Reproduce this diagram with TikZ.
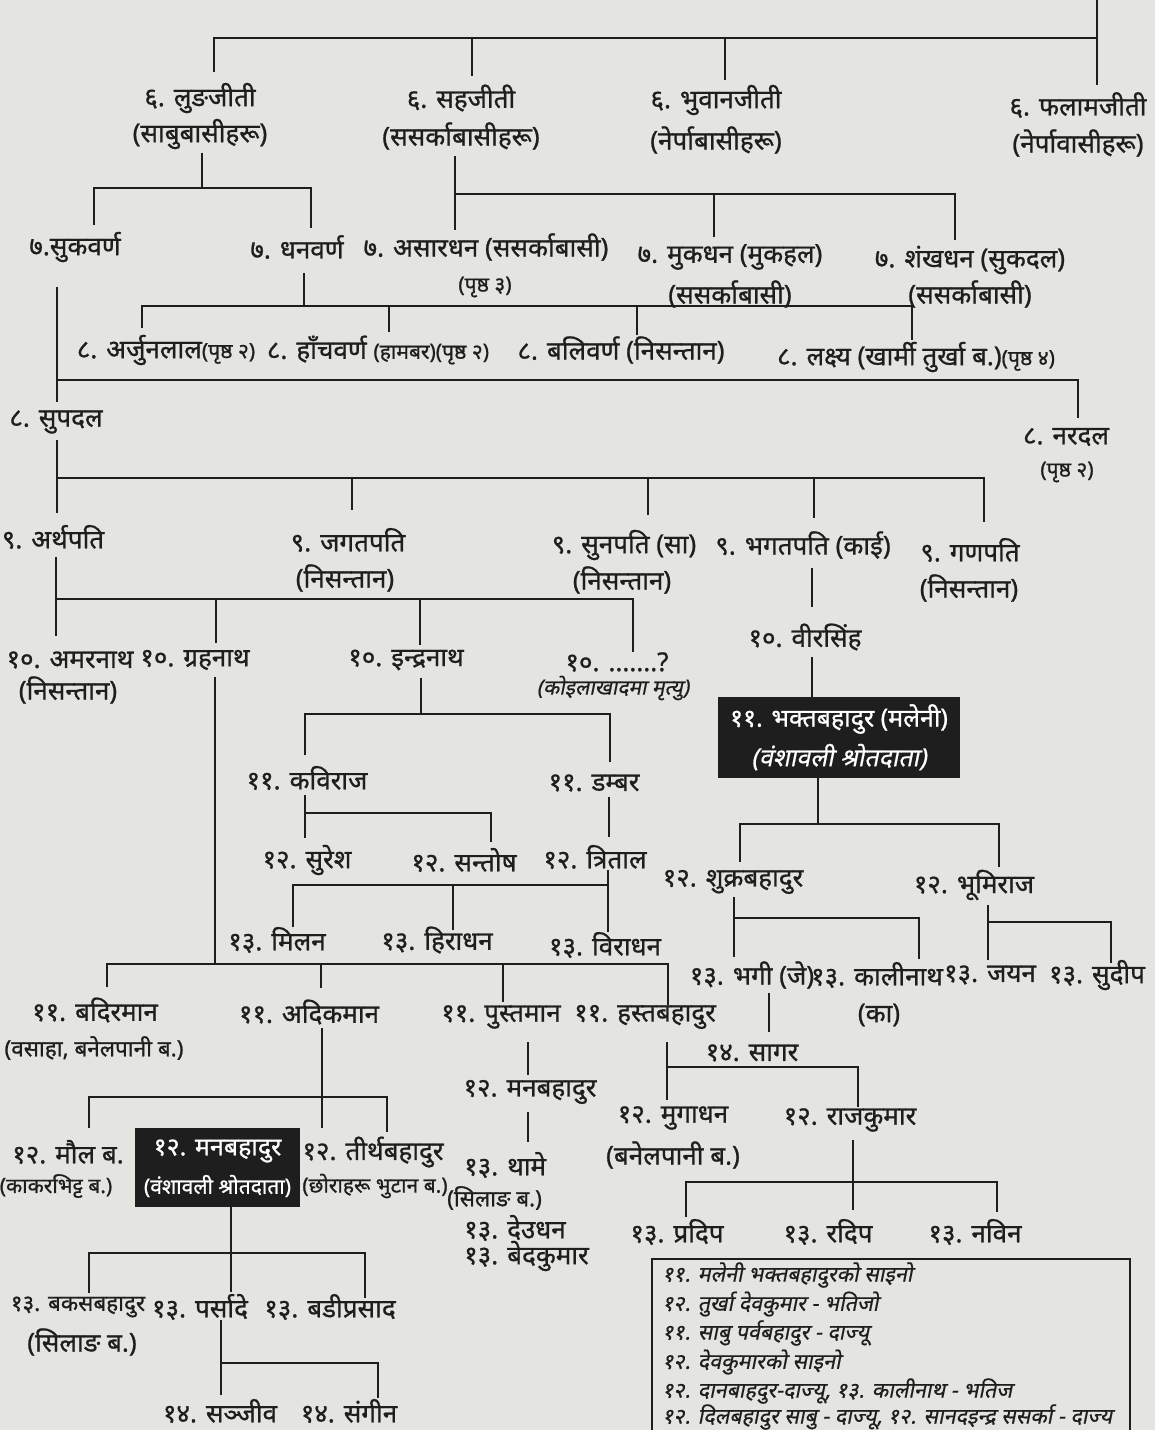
\documentclass[tikz,border=0pt]{standalone}
\usepackage{fontspec}
\setmainfont{Noto Sans}[Script=Devanagari, RawFeature={embolden=0.9}]
\newfontfamily\devit{Noto Sans}[Script=Devanagari,FakeSlant=0.2, RawFeature={embolden=0.6}]
\definecolor{paper}{HTML}{E4E4E1}
\definecolor{ink}{HTML}{1E1E1E}
\newcommand\FsM{\fontsize{26}{30}\selectfont}
\newcommand\FsB{\fontsize{25}{29}\selectfont}
\newcommand\FsN{\fontsize{22.5}{26}\selectfont}
\newcommand\FsS{\fontsize{21}{24}\selectfont}
\newcommand\FsT{\fontsize{21.5}{25}\selectfont}
\newcommand\FsK{\fontsize{22.5}{26}\selectfont}
\begin{document}
\begin{tikzpicture}[x=1pt,y=-1pt,
  lb/.style={font=\FsM, text=ink, inner sep=0pt, anchor=center},
  sm/.style={font=\FsS, text=ink, inner sep=0pt, anchor=center},
  md/.style={font=\FsN, text=ink, inner sep=0pt, anchor=center},
  ln/.style={draw=ink, line width=2.8pt},
  blk/.style={fill=ink, draw=none, inner sep=0pt},
  wt/.style={text=white, inner sep=0pt, anchor=center},
  nt/.style={font=\FsT\devit, text=ink, inner sep=0pt, anchor=west}]
\useasboundingbox (0,0) rectangle (1155,1430);
\clip (0,0) rectangle (1155,1430);
\fill[paper] (0,0) rectangle (1155,1430);

% ---------- generation 6
\node[lb] (n6a) at (200,98) {६. लुङजीती};
\node[lb] (n6aa) at (200,134) {(साबुबासीहरू)};
\node[lb] (n6b) at (461,98) {६. सहजीती};
\node[lb] (n6bb) at (461,136) {(ससर्काबासीहरू)};
\node[lb] (n6c) at (716,100) {६. भुवानजीती};
\node[lb] (n6cc) at (716,140) {(नेर्पाबासीहरू)};
\node[lb] (n6d) at (1078,105) {६. फलामजीती};
\node[lb] (n6dd) at (1078,143) {(नेर्पावासीहरू)};

% ---------- generation 7
\node[lb] (n7a) at (75,247) {७.सुकवर्ण};
\node[lb] (n7b) at (297,247) {७. धनवर्ण};
\node[lb] (n7c) at (486,247) {७. असारधन (ससर्काबासी)};
\node[sm] (n7cc) at (485,287) {(पृष्ठ ३)};
\node[lb] (n7d) at (730,257) {७. मुकधन (मुकहल)};
\node[lb] (n7dd) at (730,294) {(ससर्काबासी)};
\node[lb] (n7e) at (970,260) {७. शंखधन (सुकदल)};
\node[lb] (n7ee) at (970,294) {(ससर्काबासी)};

% ---------- generation 8
\node[lb] (n8a) at (166,350) {८. अर्जुनलाल{\FsS(पृष्ठ २)}};
\node[lb] (n8b) at (378,350) {८. हाँचवर्ण {\FsS(हामबर)(पृष्ठ २)}};
\node[lb] (n8c) at (621,350) {८. बलिवर्ण (निसन्तान)};
\node[lb] (n8d) at (916,357) {८. लक्ष्य (खार्मी तुर्खा ब.){\FsS(पृष्ठ ४)}};
\node[lb] (n8e) at (56,422) {८. सुपदल};
\node[lb] (n8f) at (1066,437) {८. नरदल};
\node[sm] (n8ff) at (1067,472) {(पृष्ठ २)};

% ---------- generation 9
\node[lb] (n9a) at (53,537) {९. अर्थपति};
\node[lb] (n9b) at (348,540) {९. जगतपति};
\node[lb] (n9bb) at (345,578) {(निसन्तान)};
\node[lb] (n9c) at (624,545) {९. सुनपति (सा)};
\node[lb] (n9cc) at (622,580) {(निसन्तान)};
\node[lb] (n9d) at (803,545) {९. भगतपति (काई)};
\node[lb] (n9e) at (970,550) {९. गणपति};
\node[lb] (n9ee) at (969,588) {(निसन्तान)};

% ---------- generation 10
\node[lb] (n10a) at (70,660) {१०. अमरनाथ};
\node[lb] (n10aa) at (68,690) {(निसन्तान)};
\node[lb] (n10b) at (195,660) {१०. ग्रहनाथ};
\node[lb] (n10c) at (406,660) {१०. इन्द्रनाथ};
\node[lb] (n10d) at (617,662) {१०. .......?};
\node[sm] (n10dd) at (613,688) {\devit(कोइलाखादमा मृत्यु)};
\node[lb] (n10e) at (805,637) {१०. वीरसिंह};

% black box 1
\node[blk, minimum width=242pt, minimum height=81pt] (m1) at (839,737.5) {};
\node[wt, font=\FsB] (m1a) at (839,719) {११. भक्तबहादुर (मलेनी)};
\node[wt, font=\FsB\devit] (m1b) at (839,757) {(वंशावली श्रोतदाता)};

% ---------- generation 11 / 12 / 13 (Indranath branch)
\node[lb] (n11a) at (307,778) {११. कविराज};
\node[lb] (n11b) at (594,783) {११. डम्बर};
\node[lb] (n12a) at (307,860) {१२. सुरेश};
\node[lb] (n12b) at (464,860) {१२. सन्तोष};
\node[lb] (n12c) at (595,857) {१२. त्रिताल};
\node[lb] (n13a) at (277,940) {१३. मिलन};
\node[lb] (n13b) at (437,940) {१३. हिराधन};
\node[lb] (n13c) at (605,945) {१३. विराधन};

% ---------- Grahanath branch
\node[lb] (n11c) at (95,1010) {११. बदिरमान};
\node[md] (n11cc) at (94,1048) {(वसाहा, बनेलपानी ब.)};
\node[lb] (n11d) at (309,1012) {११. अदिकमान};
\node[lb] (n11e) at (501,1017) {११. पुस्तमान};
\node[lb] (n11f) at (645,1017) {११. हस्तबहादुर};
\node[lb] (n12d) at (530,1092) {१२. मनबहादुर};
\node[lb, anchor=west] (n13d) at (464,1165) {१३. थामे};
\node[md, anchor=west] (n13dd) at (447,1198) {(सिलाङ ब.)};
\node[lb, anchor=west] (n13e2) at (464,1228) {१३. देउधन};
\node[lb, anchor=west] (n13f2) at (464,1256) {१३. बेदकुमार};
\node[lb] (n12e) at (673,1118) {१२. मुगाधन};
\node[lb] (n12ee) at (673,1155) {(बनेलपानी ब.)};
\node[lb] (n12f) at (850,1120) {१२. राजकुमार};
\node[lb] (n13e) at (677,1232) {१३. प्रदिप};
\node[lb] (n13f) at (828,1232) {१३. रदिप};
\node[lb] (n13g) at (975,1232) {१३. नविन};

% ---------- Bhakta branch
\node[lb] (n12g) at (733,882) {१२. शुक्रबहादुर};
\node[lb] (n12h) at (974,885) {१२. भूमिराज};
\node[lb] (n13h) at (752,975) {१३. भगी (जे)};
\node[lb] (n13i) at (877,975) {१३. कालीनाथ};
\node[lb] (n13ii) at (879,1015) {(का)};
\node[lb] (n13j) at (990,975) {१३. जयन};
\node[lb] (n13k) at (1097,975) {१३. सुदीप};
\node[lb] (n14a) at (752,1053) {१४. सागर};

% ---------- Adikman branch
\node[lb] (n12i) at (68,1152) {१२. मौल ब.};
\node[sm] (n12ii) at (56,1186) {(काकरभिट्ट ब.)};
\node[blk, minimum width=165pt, minimum height=79pt] (m2) at (217.5,1167.5) {};
\node[wt, font=\FsB] (m2a) at (217.5,1151) {१२. मनबहादुर};
\node[wt, font=\FsS] (m2b) at (217.5,1186) {(वंशावली श्रोतदाता)};
\node[lb] (n12j) at (373,1152) {१२. तीर्थबहादुर};
\node[sm] (n12jj) at (375,1186) {(छोराहरू भुटान ब.)};
\node[lb, font=\FsK] (n13l) at (78,1307) {१३. बकसबहादुर};
\node[lb] (n13ll) at (82,1342) {(सिलाङ ब.)};
\node[lb] (n13m) at (200,1307) {१३. पर्सादे};
\node[lb] (n13n) at (330,1307) {१३. बडीप्रसाद};
\node[lb] (n14b) at (220,1411) {१४. सञ्जीव};
\node[lb] (n14c) at (349,1411) {१४. संगीन};

% ---------- note box
\node[draw=ink, line width=2pt, minimum width=478pt, minimum height=200pt, anchor=north west, inner sep=0pt] (note) at (651,1258) {};
\node[nt] (t1) at (662,1275) {११. मलेनी भक्तबहादुरको साइनो};
\node[nt] (t2) at (662,1304) {१२. तुर्खा देवकुमार - भतिजो};
\node[nt] (t3) at (662,1333) {११. साबु पर्वबहादुर - दाज्यू};
\node[nt] (t4) at (662,1362) {१२. देवकुमारको साइनो};
\node[nt] (t5) at (662,1391) {१२. दानबाहदुर-दाज्यू, १३. कालीनाथ - भतिज};
\node[nt] (t6) at (662,1417) {१२. दिलबहादुर साबु - दाज्यू, १२. सानदइन्द्र ससर्का - दाज्य};

% ================= connectors =================
% F0 top
\coordinate (F0) at (0,38);
\coordinate (p0) at (1097,0);
\coordinate (c0a) at (214,72); \coordinate (c0b) at (472,76);
\coordinate (c0c) at (725,80); \coordinate (c0d) at (1097,85);
\draw[ln] (c0a) |- (c0d|-F0);
\draw[ln] (p0) -- (c0d);
\draw[ln] (c0b) -- (c0b|-F0);
\draw[ln] (c0c) -- (c0c|-F0);
% F1 Lungjiti
\coordinate (F1) at (0,188);
\coordinate (p1) at (202,153);
\coordinate (c1a) at (94,225); \coordinate (c1b) at (311,228);
\draw[ln] (c1a) |- (c1b|-F1) -- (c1b);
\draw[ln] (p1) -- (p1|-F1);
% F2 Sahajiti
\coordinate (F2) at (0,194);
\coordinate (p2) at (455,156);
\coordinate (c2a) at (455,230); \coordinate (c2b) at (714,237); \coordinate (c2c) at (955,240);
\draw[ln] (p2) -- (c2a);
\draw[ln] (p2|-F2) -| (c2c);
\draw[ln] (c2b) -- (c2b|-F2);
% F3 Dhanvarna
\coordinate (F3) at (0,306);
\coordinate (p3) at (304,273);
\coordinate (c3a) at (142,328); \coordinate (c3b) at (389,332);
\coordinate (c3c) at (637,335); \coordinate (c3d) at (912,340);
\draw[ln] (c3a) |- (c3d|-F3) -- (c3d);
\draw[ln] (p3) -- (p3|-F3);
\draw[ln] (c3b) -- (c3b|-F3);
\draw[ln] (c3c) -- (c3c|-F3);
% F4 Sukvarna
\coordinate (F4) at (0,380);
\coordinate (p4) at (57,287);
\coordinate (c4a) at (57,402); \coordinate (c4b) at (1078,418);
\draw[ln] (p4) -- (c4a);
\draw[ln] (p4|-F4) -| (c4b);
% F5 Supadal
\coordinate (F5) at (0,478);
\coordinate (p5) at (57,440);
\coordinate (c5a) at (57,513); \coordinate (c5b) at (352,510);
\coordinate (c5c) at (648,515); \coordinate (c5d) at (814,518); \coordinate (c5e) at (984,522);
\draw[ln] (p5) -- (c5a);
\draw[ln] (p5|-F5) -| (c5e);
\draw[ln] (c5b) -- (c5b|-F5);
\draw[ln] (c5c) -- (c5c|-F5);
\draw[ln] (c5d) -- (c5d|-F5);
% F6 Arthapati
\coordinate (F6) at (0,599);
\coordinate (p6) at (56,557);
\coordinate (c6a) at (56,636); \coordinate (c6b) at (216,643);
\coordinate (c6c) at (420,645); \coordinate (c6d) at (633,652);
\draw[ln] (p6) -- (c6a);
\draw[ln] (p6|-F6) -| (c6d);
\draw[ln] (c6b) -- (c6b|-F6);
\draw[ln] (c6c) -- (c6c|-F6);
% F7 Grahanath
\coordinate (F7) at (0,964);
\coordinate (p7) at (215,677);
\coordinate (c7a) at (107,987); \coordinate (c7b) at (321,988);
\coordinate (c7c) at (503,1002); \coordinate (c7d) at (668,1005);
\draw[ln] (c7a) |- (c7d|-F7) -- (c7d);
\draw[ln] (p7) -- (p7|-F7);
\draw[ln] (c7b) -- (c7b|-F7);
\draw[ln] (c7c) -- (c7c|-F7);
% F8 Indranath
\coordinate (F8) at (0,714);
\coordinate (p8) at (421,678);
\coordinate (c8a) at (305,755); \coordinate (c8b) at (610,762);
\draw[ln] (c8a) |- (c8b|-F8) -- (c8b);
\draw[ln] (p8) -- (p8|-F8);
% F9 Kaviraj
\coordinate (F9) at (0,813);
\coordinate (p9) at (305,795);
\coordinate (c9a) at (305,838); \coordinate (c9b) at (491,842);
\draw[ln] (p9) -- (c9a);
\draw[ln] (p9|-F9) -| (c9b);
% F10 Dambar
\coordinate (p10) at (609,797); \coordinate (c10) at (609,837);
\draw[ln] (p10) -- (c10);
% F11 Tritaal
\coordinate (F11) at (0,885);
\coordinate (p11) at (608,870);
\coordinate (c11a) at (293,927); \coordinate (c11b) at (453,930); \coordinate (c11c) at (608,932);
\draw[ln] (p11) -- (c11c);
\draw[ln] (p11|-F11) -| (c11a);
\draw[ln] (c11b) -- (c11b|-F11);
% F12/F13 Pustaman line
\coordinate (p12) at (528,1042); \coordinate (c12) at (528,1075);
\draw[ln] (p12) -- (c12);
\coordinate (p13) at (528,1112); \coordinate (c13) at (528,1142);
\draw[ln] (p13) -- (c13);
% F14 Hastabahadur
\coordinate (F14) at (0,1067);
\coordinate (p14) at (667,1042);
\coordinate (c14a) at (667,1100); \coordinate (c14b) at (858,1107);
\draw[ln] (p14) -- (c14a);
\draw[ln] (p14|-F14) -| (c14b);
% F15 Rajkumar
\coordinate (F15) at (0,1182);
\coordinate (p15) at (853,1140);
\coordinate (c15a) at (686,1217); \coordinate (c15b) at (853,1210); \coordinate (c15c) at (997,1212);
\draw[ln] (p15) -- (c15b);
\draw[ln] (c15a) |- (c15c|-F15) -- (c15c);
% F16/F17 Bhagatpati line
\coordinate (p16) at (812,568); \coordinate (c16) at (812,607);
\draw[ln] (p16) -- (c16);
\coordinate (p17) at (812,657);
\draw[ln] (p17) -- (p17|-m1.north);
% F18 Bhakta
\coordinate (F18) at (0,824);
\coordinate (p18) at (818,0);
\coordinate (c18a) at (740,862); \coordinate (c18b) at (999,867);
\draw[ln] (p18|-m1.south) -- (p18|-F18);
\draw[ln] (c18a) |- (c18b|-F18) -- (c18b);
% F19 Shukra
\coordinate (F19) at (0,918);
\coordinate (p19) at (734,897);
\coordinate (c19a) at (734,957); \coordinate (c19b) at (919,959);
\draw[ln] (p19) -- (c19a);
\draw[ln] (p19|-F19) -| (c19b);
% F20 Bhumi
\coordinate (F20) at (0,922);
\coordinate (p20) at (988,905);
\coordinate (c20a) at (988,960); \coordinate (c20b) at (1111,963);
\draw[ln] (p20) -- (c20a);
\draw[ln] (p20|-F20) -| (c20b);
% F21 Bhagi
\coordinate (p21) at (769,993); \coordinate (c21) at (769,1032);
\draw[ln] (p21) -- (c21);
% F22 Adikman
\coordinate (F22) at (0,1097);
\coordinate (p22) at (322,1028);
\coordinate (c22a) at (89,1128); \coordinate (c22c) at (387,1132);
\draw[ln] (p22) -- (p22|-m2.north);
\draw[ln] (c22a) |- (c22c|-F22) -- (c22c);
% F23 Manbahadur box
\coordinate (F23) at (0,1253);
\coordinate (c23a) at (89,1293); \coordinate (c23b) at (231,1292); \coordinate (c23c) at (365,1298);
\draw[ln] (c23b|-m2.south) -- (c23b);
\draw[ln] (c23a) |- (c23c|-F23) -- (c23c);
% F24 Parsade
\coordinate (F24) at (0,1363);
\coordinate (p24) at (221,1320);
\coordinate (c24a) at (221,1395); \coordinate (c24b) at (378,1398);
\draw[ln] (p24) -- (c24a);
\draw[ln] (p24|-F24) -| (c24b);
\end{tikzpicture}
\end{document}
